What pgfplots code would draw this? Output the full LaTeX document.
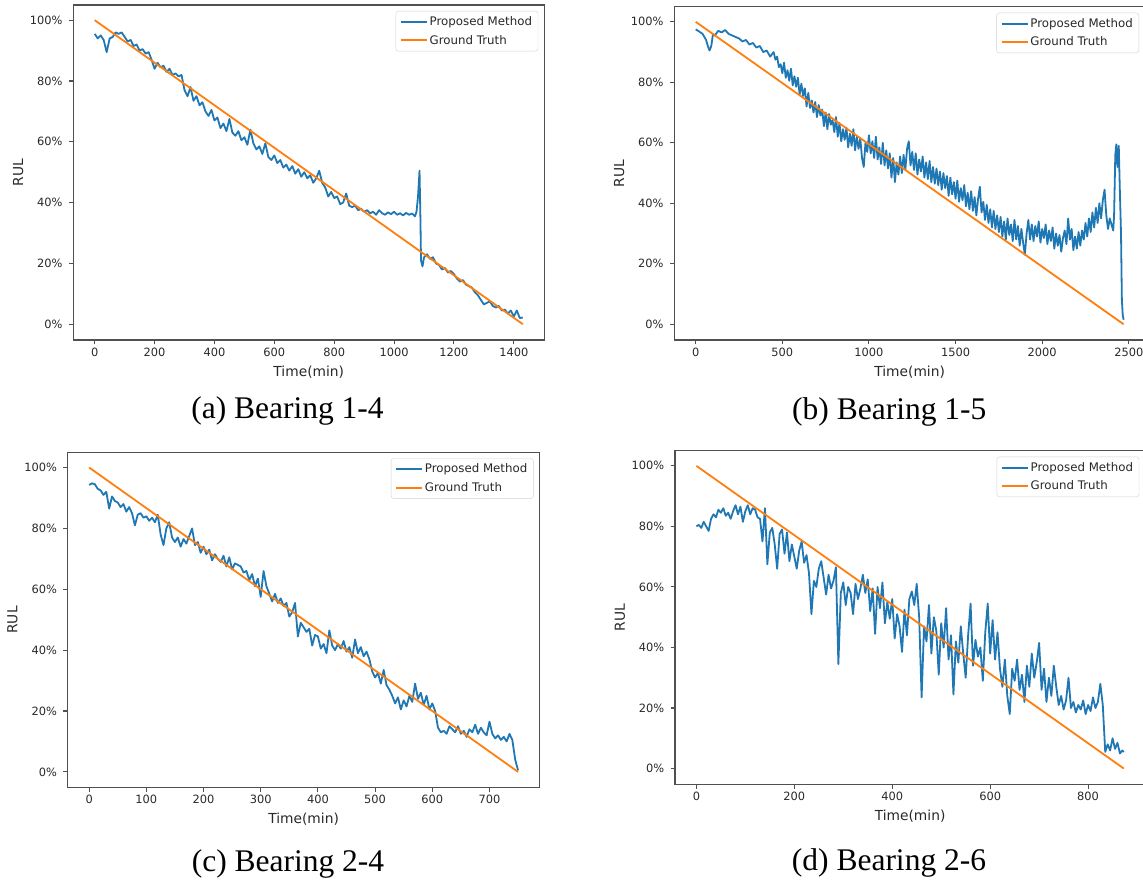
\documentclass[border=0pt]{standalone}
\usepackage{fontspec}
\setmainfont{DejaVu Sans}
\newfontfamily\capfont{Liberation Serif}
\usepackage{pgfplots}
\pgfplotsset{compat=1.18}

\definecolor{mplblue}{RGB}{31,119,180}
\definecolor{mplorange}{RGB}{255,127,14}
\definecolor{spine}{RGB}{80,80,80}
\definecolor{tickc}{RGB}{40,40,40}
\definecolor{leggray}{RGB}{210,210,210}

\newcommand\tickfont{\fontsize{11.4}{13}\selectfont}
\newcommand\legfont{\fontsize{11.8}{14}\selectfont}
\newcommand\labfont{\fontsize{13.8}{16}\selectfont}
\newcommand\capsize{\fontsize{31.5}{36}\selectfont}

\pgfplotsset{
  rul/.style={
    scale only axis, anchor=south west,
    ymin=-5.2, ymax=105, ytick={0,20,...,100},
    /pgf/number format/assume math mode=true,
    /pgf/number format/1000 sep={},
    xticklabel={\pgfmathprintnumber{\tick}},
    yticklabel={\pgfmathprintnumber{\tick}\%},
    xtick pos=bottom, ytick pos=left, tick align=outside,
    major tick length=4.3pt,
    axis line style={draw=spine, line width=1.2pt},
    tick style={draw=spine, line width=1.1pt},
    ticklabel style={font=\tickfont, text=tickc},
    yticklabel style={xshift=-3pt},
    xlabel={Time(min)}, ylabel={RUL},
    label style={font=\labfont, text=tickc, inner sep=0pt},
    xlabel style={at={(axis description cs:0.5,-0.076)}, anchor=north},
    ylabel style={at={(axis description cs:-0.117,0.5)}, anchor=center},
    legend style={at={(1,1)}, anchor=north east, xshift=-6pt, yshift=-6pt,
      draw=leggray, rounded corners=2.5pt,
      fill=white, fill opacity=0.8, text opacity=1, draw opacity=1,
      inner xsep=4pt, inner ysep=3.5pt, row sep=4pt,
      font=\legfont, text=tickc},
    legend cell align=left,
    legend image code/.code={\draw[##1, line width=1.8pt] (0pt,0pt) -- (26pt,0pt);},
  },
  blueline/.style={color=mplblue, line width=1.8pt, line join=round, mark=none},
  orangeline/.style={color=mplorange, line width=1.8pt, mark=none},
}

\begin{document}
\begin{tikzpicture}
\path[use as bounding box] (0,0) rectangle (1143pt,-882pt);

% (a) Bearing 1-4
\begin{axis}[rul, at={(73.3pt,-340pt)}, width=470.9pt, height=335pt,
  xmin=-71.5, xmax=1501.5, xtick={0,200,...,1400}]
\addplot[blueline] coordinates {
(0,95.5) (10,94) (20,95) (30,93.5) (40,89.5) (50,94) (60,94.5) (70,96) (80,95.5) (90,96)
(100,94.5) (110,93) (120,93.5) (130,91.5) (140,92) (150,90) (160,90.5) (170,89) (180,89.5) (190,87)
(200,84) (210,86) (220,84.5) (230,85) (240,83) (250,84) (260,82) (270,82.5) (280,81.5) (290,82)
(300,77) (310,75) (320,78) (330,73.5) (340,75) (350,72) (360,73) (370,70) (380,68.5) (390,70.5)
(400,67) (410,68) (420,64.5) (430,66) (440,63.5) (450,67.5) (460,63) (470,62) (480,63.5) (490,60.5)
(500,61.5) (510,59) (520,64) (530,59.5) (540,57.5) (550,58.5) (560,56) (570,59.5) (580,55) (590,54)
(600,55.5) (610,53) (620,54) (630,51.5) (640,52.5) (650,50.5) (660,52) (670,49.5) (680,51) (690,48.5)
(700,50) (710,48) (720,49) (730,46.5) (740,48) (750,50.5) (760,46.5) (770,45) (780,42) (790,43.5)
(800,41.5) (810,42) (820,39.5) (830,40) (840,43) (850,39) (860,38.5) (870,39) (880,37.5) (890,38)
(900,37) (910,37.5) (920,36.5) (930,37) (940,36) (950,37.5) (960,36.5) (970,36) (980,36.8) (990,36.2)
(1000,37) (1010,36) (1020,36.5) (1030,35.8) (1040,36.6) (1050,36) (1060,36.4) (1070,35.5) (1075,37) (1080,42)
(1085,50.5) (1088,35) (1090,21) (1095,19) (1100,22) (1110,23) (1120,21.5) (1130,22) (1140,20) (1150,19.5)
(1160,18) (1170,18.5) (1180,17) (1190,17.5) (1200,16.5) (1210,15) (1220,14) (1230,14.5) (1240,13) (1250,12.5)
(1260,12) (1270,10.5) (1280,9.5) (1290,8) (1300,6.5) (1310,7) (1320,7.5) (1330,6) (1340,5.5) (1350,6)
(1360,4.5) (1370,4.8) (1380,3.5) (1390,4.5) (1400,2.5) (1410,4.5) (1420,2) (1430,2.2)
};
\addlegendentry{Proposed Method}
\addplot[orangeline] coordinates {(0,100) (1430,0)};
\addlegendentry{Ground Truth}
\end{axis}

% (b) Bearing 1-5
\begin{axis}[rul, at={(674.3pt,-340pt)}, width=470.7pt, height=333.3pt,
  xmin=-123.5, xmax=2593.5, xtick={0,500,...,2500}]
\addplot[blueline] coordinates {
(0,97.5) (20,96.8) (40,96) (60,94) (70,92) (80,90.5) (90,92) (100,96) (110,95.5) (130,97)
(150,96.5) (170,97.3) (190,96) (210,95.5) (230,95) (250,94.5) (270,93.5) (290,94) (310,92.5) (330,93)
(350,91.5) (370,92) (390,90) (410,90.5) (430,88.5)
(450,90) (460,87.5) (470,88.5) (480,85) (490,86) (500,83) (510,86.5) (520,81.5) (530,84) (540,80.5)
(550,84.5) (560,79) (570,82) (580,78.5) (590,81.5) (600,76) (610,79.5) (620,75.5) (630,78) (640,72)
(650,76.5) (660,71.5) (670,74) (680,70) (690,73.5) (700,68.5) (710,72.5) (720,69) (730,71) (740,65.5)
(750,70) (760,64.5) (770,69.5) (780,66) (790,67.5) (800,63.5) (810,68.5) (820,62) (830,66.5) (840,60.5)
(850,64.5) (860,61) (870,65) (880,58.5) (890,63) (900,59) (910,64.5) (920,57.5) (930,62) (940,58)
(950,61.5) (960,55) (970,52) (980,60) (990,57) (1000,62.5) (1010,56.5) (1020,60.5) (1030,55) (1040,62)
(1050,54.5) (1060,58.5) (1070,53) (1080,60) (1090,52.5) (1100,57.5) (1110,51.5) (1120,56.5) (1130,48.5) (1140,55)
(1150,47) (1160,53.5) (1170,49.5) (1180,55.5) (1190,50) (1200,56) (1210,51) (1220,58) (1230,60.5) (1240,52.5)
(1250,57) (1260,51) (1270,56.5) (1280,49.5) (1290,54.5) (1300,50.5) (1310,55.5) (1320,48.5) (1330,53.5) (1340,48)
(1350,54) (1360,47) (1370,52) (1380,46.5) (1390,51.5) (1400,46) (1410,50.5) (1420,44.5) (1430,50) (1440,45)
(1450,49) (1460,42.5) (1470,48.5) (1480,43) (1490,47) (1500,41.5) (1510,47.5) (1520,40.5) (1530,45) (1540,41)
(1550,46) (1560,39) (1570,43.5) (1580,38) (1590,44) (1600,37.5) (1610,42) (1620,36) (1630,41.5) (1640,45.5)
(1650,37) (1660,40.5) (1670,34.5) (1680,39.5) (1690,33.5) (1700,38) (1710,32) (1720,37.5) (1730,31.5) (1740,36)
(1750,30.5) (1760,35.5) (1770,29) (1780,34) (1790,28) (1800,35) (1810,29.5) (1820,33) (1830,27.5) (1840,34.5)
(1850,28) (1860,32.5) (1870,26) (1880,31.5) (1890,27) (1900,23) (1910,30) (1920,34.5) (1930,28) (1940,33)
(1950,27.5) (1960,32.5) (1970,29) (1980,34) (1990,27) (2000,31.5) (2010,28.5) (2020,33) (2030,26.5) (2040,31)
(2050,27.5) (2060,32) (2070,25) (2080,30) (2090,26) (2100,29.5) (2110,24) (2120,28.5) (2130,31) (2140,26.5)
(2150,35) (2160,28) (2170,31.5) (2180,24.5) (2190,29) (2200,25) (2210,30.5) (2220,26) (2230,31) (2240,28)
(2250,33.5) (2260,29) (2270,35) (2280,30.5) (2290,37) (2300,32) (2310,38.5) (2320,33.5) (2330,40) (2340,35)
(2350,41) (2360,44.5) (2370,36) (2380,31.5) (2390,35) (2400,33) (2410,31) (2415,36) (2422,56) (2428,59.5)
(2435,52) (2442,59) (2448,45) (2455,30) (2460,8) (2465,3) (2470,1.5)
};
\addlegendentry{Proposed Method}
\addplot[orangeline] coordinates {(0,100) (2470,0)};
\addlegendentry{Ground Truth}
\end{axis}

% (c) Bearing 2-4
\begin{axis}[rul, at={(67.7pt,-787.7pt)}, width=471.8pt, height=335.4pt,
  xmin=-37.5, xmax=787.5, xtick={0,100,...,700}]
\addplot[blueline] coordinates {
(0,94.3) (5,94.8) (10,94.5) (15,93) (20,92.5) (25,91) (30,92) (35,86.5) (40,90.5) (45,89)
(50,88.5) (55,87) (60,88) (65,85.5) (70,87) (75,85) (80,81) (85,84.5) (90,85) (95,83.5)
(100,84) (105,82.5) (110,83.5) (115,82) (120,84.5) (125,78) (130,74.5) (135,80) (140,82) (145,77)
(150,75.5) (155,77) (160,74) (165,76.5) (170,75) (175,77.5) (180,80) (185,74.5) (190,75.5) (195,72)
(200,74) (205,71.5) (210,73) (215,69.5) (220,71.5) (225,70) (230,69) (235,71) (240,67.5) (245,70.5)
(250,66.5) (255,68.5) (260,68) (265,67.5) (270,65.5) (275,66) (280,63) (285,65) (290,61) (295,63.5)
(300,57.5) (305,66) (310,61) (315,58.5) (320,56) (325,58.5) (330,55.5) (335,57) (340,54.5) (345,55.5)
(350,51) (355,52.5) (360,55.5) (365,44.5) (370,49) (375,47.5) (380,46) (385,47) (390,41.5) (395,45)
(400,44.5) (405,40.5) (410,42) (415,39) (420,46.5) (425,41.5) (430,40) (435,42) (440,40.5) (445,43)
(450,39.5) (455,41) (460,37.5) (465,43.5) (470,39) (475,41) (480,38) (485,39.5) (490,37) (495,33)
(500,31) (505,32.5) (510,29) (515,33.5) (520,28.5) (525,27) (530,25) (535,22.5) (540,24.5) (545,20.5)
(550,23.5) (555,21.5) (560,25) (565,23) (570,29) (575,24) (580,26) (585,22) (590,25) (595,20.5)
(600,22.5) (605,20) (610,14.5) (615,13) (620,13.5) (625,12.5) (630,15) (635,14) (640,13) (645,15)
(650,12.5) (655,13.5) (660,11.5) (665,14) (670,13) (675,15.5) (680,12.5) (685,14.5) (690,13) (695,12)
(700,16.5) (705,12.5) (710,11) (715,12) (720,10.5) (725,11.5) (730,10) (735,12.5) (740,10.5) (745,4)
(750,0.5)
};
\addlegendentry{Proposed Method}
\addplot[orangeline] coordinates {(0,100) (750,0)};
\addlegendentry{Ground Truth}
\end{axis}

% (d) Bearing 2-6
\begin{axis}[rul, at={(675pt,-784.3pt)}, width=470.2pt, height=333.6pt,
  xmin=-43.65, xmax=916.65, xtick={0,200,...,800}]
\addplot[blueline] coordinates {
(0,80) (5,80.5) (10,79.5) (15,81.5) (20,80) (25,78.5) (30,82.5) (35,84) (40,83) (45,85.5)
(50,84.5) (55,86) (60,83.5) (65,84.5) (70,82.5) (75,85) (80,87) (85,84) (90,86.5) (95,81.5)
(100,85) (105,87) (110,84) (115,86) (120,85.5) (125,83) (130,82.5) (135,75) (140,86) (145,67.5)
(150,78) (155,79.5) (160,74) (165,66) (170,77.5) (175,79) (180,71) (185,78) (190,68.5) (195,74)
(200,70) (205,66) (210,72) (215,75) (220,68) (225,70.5) (230,64.5) (235,51) (240,62) (245,60)
(250,66) (255,68.5) (260,63) (265,57.5) (270,64) (275,59.5) (280,62) (285,66.5) (290,34.5) (295,58)
(300,61.5) (305,54) (310,60) (315,58) (320,51) (325,61) (330,56) (335,59.5) (340,64) (345,58)
(350,62.5) (355,52) (360,59.5) (365,44.5) (370,60) (375,53) (380,61.5) (385,48) (390,55) (395,49.5)
(400,56) (405,43) (410,51) (415,47) (420,38.5) (425,52.5) (430,44) (435,56) (440,58.5) (445,54)
(450,61) (455,50) (460,23.5) (465,47) (470,42) (475,54) (480,38) (485,50) (490,45.5) (495,31)
(500,48) (505,40) (510,53) (515,36) (520,44) (525,24.5) (530,42) (535,35) (540,47) (545,38)
(550,30) (555,44) (560,54.5) (565,34) (570,42.5) (575,37) (580,40) (585,29) (590,45) (595,54.5)
(600,38) (605,49) (610,36) (615,45) (620,33) (625,27) (630,36) (635,24) (640,18) (645,33)
(650,29) (655,36) (660,26) (665,31) (670,22) (675,34) (680,27) (685,38) (690,30) (695,35)
(700,41.5) (705,26) (710,33) (715,22) (720,30) (725,24) (730,34) (735,27) (740,21) (745,24)
(750,19.5) (755,22.5) (760,30) (765,20) (770,22) (775,18.5) (780,21) (785,19.5) (790,22.5) (795,18)
(800,21) (805,19) (810,23.5) (815,20) (820,22) (825,28) (830,21) (835,5.5) (840,8) (845,6)
(850,10) (855,6.5) (860,8.5) (865,5) (870,6) (873,5.5)
};
\addlegendentry{Proposed Method}
\addplot[orangeline] coordinates {(0,100) (873,0)};
\addlegendentry{Ground Truth}
\end{axis}

\node[anchor=base, inner sep=0pt, font=\capfont\capsize] at (287.5pt,-418pt) {(a) Bearing 1-4};
\node[anchor=base, inner sep=0pt, font=\capfont\capsize] at (889.3pt,-419pt) {(b) Bearing 1-5};
\node[anchor=base, inner sep=0pt, font=\capfont\capsize] at (288pt,-871pt) {(c) Bearing 2-4};
\node[anchor=base, inner sep=0pt, font=\capfont\capsize] at (889pt,-870pt) {(d) Bearing 2-6};
\end{tikzpicture}
\end{document}
